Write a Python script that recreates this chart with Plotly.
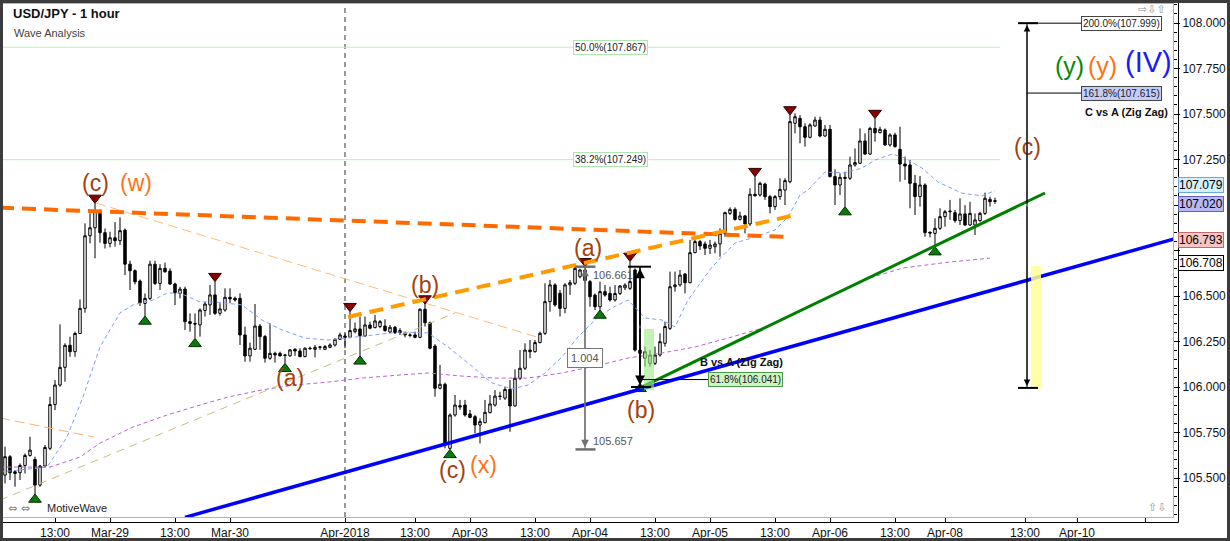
import plotly.graph_objects as go

# ---------------- data (bar index = hourly bar, prices) ----------------
opens = [105.516,105.617,105.534,105.529,105.569,105.624,105.602,105.461,105.566,105.663,
         105.904,106.011,106.108,106.229,106.194,106.294,106.432,106.831,106.875,106.969,
         106.848,106.789,106.820,106.804,106.862,106.675,106.639,106.582,106.459,106.487,
         106.675,106.569,106.652,106.637,106.566,106.514,106.538,106.359,106.349,106.341,
         106.420,106.451,106.506,106.405,106.423,106.493,106.487,106.487,106.286,106.171,
         106.207,106.335,106.277,106.158,106.185,106.185,106.176,106.171,106.207,106.198,
         106.167,106.213,106.207,106.218,106.207,106.218,106.231,106.262,106.280,106.273,
         106.304,106.319,106.280,106.341,106.326,106.332,106.335,106.302,106.328,106.299,
         106.295,106.286,106.286,106.273,106.427,106.353,106.225,105.993,106.015,105.663,
         105.846,105.897,105.901,105.852,105.837,105.791,105.804,105.859,105.901,105.950,
         105.939,105.987,105.896,106.048,106.103,106.203,106.194,106.244,106.295,106.469,
         106.561,106.515,106.432,106.561,106.570,106.606,106.643,106.579,106.505,106.441,
         106.524,106.514,106.478,106.514,106.545,106.542,106.643,106.203,106.158,106.130,
         106.130,106.176,106.240,106.322,106.551,106.561,106.621,106.573,106.738,106.799,
         106.786,106.762,106.771,106.786,106.844,106.954,106.976,106.921,106.940,106.896,
         107.059,107.055,107.115,107.046,106.991,107.046,107.082,107.128,107.449,107.476,
         107.430,107.372,107.434,107.467,107.379,107.416,107.156,107.110,107.152,107.147,
         107.220,107.229,107.352,107.280,107.421,107.397,107.412,107.330,107.385,107.306,
         107.225,107.220,107.119,107.046,107.110,106.851,106.844,106.872,106.936,106.963,
         106.958,106.914,106.951,106.890,106.890,106.914,106.954,107.031,107.024]
highs = [105.672,105.626,105.544,105.580,105.635,105.727,105.617,105.571,105.681,105.946,
         106.038,106.344,106.240,106.276,106.304,106.481,106.899,106.954,107.009,106.976,
         106.871,106.853,106.906,106.932,106.871,106.694,106.646,106.591,106.514,106.694,
         106.694,106.675,106.683,106.652,106.573,106.551,106.551,106.404,106.404,106.432,
         106.469,106.561,106.579,106.460,106.542,106.542,106.497,106.515,106.332,106.244,
         106.456,106.346,106.286,106.350,106.194,106.194,106.180,106.207,106.213,106.213,
         106.218,106.222,106.231,106.226,106.231,106.240,106.268,106.299,106.295,106.414,
         106.354,106.387,106.387,106.359,106.396,106.368,106.372,106.341,106.335,106.323,
         106.304,106.295,106.304,106.432,106.456,106.359,106.236,106.121,106.024,105.855,
         105.956,105.929,105.929,105.874,105.846,105.828,105.929,105.956,105.983,105.974,
         106.002,106.038,106.097,106.203,106.240,106.258,106.258,106.304,106.570,106.588,
         106.570,106.533,106.570,106.588,106.670,106.650,106.661,106.588,106.514,106.579,
         106.560,106.551,106.560,106.560,106.570,106.690,106.652,106.250,106.222,106.203,
         106.222,106.295,106.359,106.634,106.634,106.643,106.625,106.808,106.808,106.808,
         106.799,106.808,106.799,106.872,106.963,106.987,106.987,106.963,106.945,107.092,
         107.156,107.128,107.123,107.055,107.055,107.147,107.147,107.495,107.504,107.494,
         107.449,107.449,107.485,107.485,107.440,107.440,107.196,107.174,107.183,107.266,
         107.311,107.421,107.394,107.430,107.475,107.430,107.421,107.394,107.397,107.430,
         107.266,107.247,107.165,107.159,107.119,106.853,106.927,106.982,106.973,107.028,
         106.973,107.037,106.999,107.018,106.954,106.963,107.068,107.046,107.040]
lows = [105.470,105.489,105.452,105.489,105.525,105.617,105.412,105.452,105.562,105.653,
        105.873,106.001,106.029,106.166,106.166,106.294,106.408,106.789,106.707,106.793,
        106.761,106.767,106.771,106.780,106.615,106.533,106.564,106.445,106.390,106.478,
        106.560,106.533,106.628,106.560,106.450,106.487,106.313,106.304,106.267,106.277,
        106.387,106.396,106.396,106.392,106.414,106.460,106.469,106.231,106.139,106.139,
        106.204,106.204,106.134,106.149,106.134,106.167,106.130,106.167,106.171,106.163,
        106.163,106.204,106.163,106.204,106.204,106.213,106.222,106.258,106.213,106.268,
        106.295,106.171,106.277,106.317,106.323,106.323,106.304,106.295,106.291,106.286,
        106.273,106.273,106.268,106.268,106.332,106.207,105.947,105.987,105.663,105.657,
        105.837,105.874,105.837,105.828,105.745,105.690,105.800,105.855,105.892,105.929,
        105.929,105.754,105.892,106.038,106.093,106.158,106.189,106.240,106.286,106.414,
        106.441,106.387,106.405,106.506,106.561,106.597,106.575,106.441,106.423,106.423,
        106.496,106.469,106.469,106.505,106.533,106.533,106.194,106.020,106.112,106.112,
        106.121,106.167,106.222,106.313,106.524,106.551,106.515,106.570,106.735,106.753,
        106.725,106.731,106.735,106.716,106.826,106.945,106.914,106.914,106.844,106.885,
        107.046,107.046,107.028,106.954,106.973,107.028,107.000,107.119,107.394,107.339,
        107.321,107.366,107.430,107.372,107.375,107.152,107.000,107.055,106.991,107.137,
        107.211,107.225,107.275,107.275,107.348,107.394,107.324,107.321,107.315,107.128,
        107.137,106.982,106.945,106.991,106.826,106.822,106.771,106.863,106.881,106.918,
        106.903,106.890,106.885,106.885,106.835,106.908,106.945,106.991,107.006]
closes = [105.617,105.529,105.525,105.569,105.624,105.653,105.461,105.566,105.668,105.904,
          106.011,106.108,106.229,106.194,106.294,106.432,106.831,106.875,106.969,106.848,
          106.789,106.820,106.804,106.859,106.675,106.639,106.578,106.463,106.487,106.675,
          106.569,106.652,106.633,106.566,106.518,106.538,106.359,106.349,106.346,106.423,
          106.456,106.506,106.405,106.429,106.493,106.484,106.478,106.286,106.171,106.213,
          106.335,106.277,106.158,106.185,106.176,106.171,106.174,106.204,106.198,106.167,
          106.213,106.211,106.218,106.220,106.222,106.231,106.262,106.286,106.273,106.310,
          106.319,106.282,106.341,106.323,106.363,106.359,106.310,106.328,106.299,106.310,
          106.286,106.284,106.273,106.427,106.353,106.213,105.993,106.015,105.681,105.846,
          105.901,105.891,105.846,105.833,105.791,105.810,105.861,105.907,105.950,105.948,
          105.987,105.896,106.048,106.103,106.203,106.194,106.244,106.295,106.469,106.561,
          106.451,106.432,106.561,106.573,106.652,106.643,106.585,106.496,106.441,106.524,
          106.505,106.478,106.514,106.555,106.560,106.579,106.203,106.185,106.194,106.176,
          106.176,106.249,106.332,106.551,106.561,106.615,106.573,106.738,106.799,106.775,
          106.762,106.780,106.786,106.844,106.958,106.976,106.921,106.940,106.896,107.059,
          107.051,107.119,107.046,106.991,107.046,107.086,107.134,107.458,107.485,107.430,
          107.372,107.440,107.467,107.379,107.416,107.156,107.110,107.152,107.147,107.220,
          107.233,107.352,107.280,107.421,107.397,107.416,107.330,107.385,107.321,107.225,
          107.214,107.119,107.046,107.110,106.848,106.846,106.872,106.936,106.963,106.966,
          106.914,106.951,106.890,106.954,106.918,106.954,107.037,107.018,107.020]
bars = list(range(len(closes)))

# x-axis ticks (bar positions) and labels
tick_bars = [10, 21, 34, 45, 68, 82, 93, 106, 117, 130, 141, 154, 165, 178, 188, 204, 214.4, 228]
tick_labels = ["13:00", "Mar-29", "13:00", "Mar-30", "Apr-2018", "13:00", "Apr-03", "13:00",
               "Apr-04", "13:00", "Apr-05", "13:00", "Apr-06", "13:00", "Apr-08", "13:00", "Apr-10", ""]

# y-axis ticks; 107.000 and 106.750 are hidden behind the price tags in the reference
y_ticks = [105.5, 105.75, 106.0, 106.25, 106.5, 106.75, 107.0, 107.25, 107.5, 107.75, 108.0]
y_tick_labels = ["105.500", "105.750", "106.000", "106.250", "106.500", "", "", "107.250",
                 "107.500", "107.750", "108.000"]

# moving averages (bar, price)
ma_fast_bars = [-1, 8.4, 12.4, 15.6, 19, 23, 25.6, 29.6, 32.4, 35, 39, 42, 47.4, 51.4, 55.4, 60, 64.6,
                68, 73.4, 79, 84.6, 88.6, 92.6, 97.4, 101.4, 104.6, 108, 111.4, 114.6, 118.6, 121.4,
                124.6, 128, 131.4, 134, 136.6, 141.4, 146, 150, 154, 156.6, 159, 160.6, 164, 168,
                171.4, 174, 177.4, 180, 183.4, 186.6, 191.4, 195.4, 198]
ma_fast_vals = [105.533, 105.560, 105.725, 105.945, 106.220, 106.407, 106.451, 106.478, 106.516,
                106.516, 106.467, 106.467, 106.451, 106.368, 106.313, 106.269, 106.258, 106.269,
                106.286, 106.302, 106.297, 106.220, 106.132, 106.022, 105.989, 106.011, 106.077,
                106.165, 106.275, 106.385, 106.434, 106.478, 106.379, 106.368, 106.330, 106.478,
                106.659, 106.791, 106.824, 106.863, 106.934, 107.055, 107.082, 107.181, 107.176,
                107.203, 107.247, 107.280, 107.258, 107.203, 107.126, 107.065, 107.050, 107.079]
ma_slow_bars = [-1, 9, 15, 19, 25.6, 32.4, 39, 44.6, 51.4, 58, 64.6, 71.4, 79, 84.6, 91.4, 98, 104.6,
                111.4, 119, 124.6, 131.4, 138, 144.6, 151.6, 159, 166.4, 173, 179.6, 189, 197]
ma_slow_vals = [105.560, 105.560, 105.615, 105.692, 105.780, 105.846, 105.901, 105.945, 105.984,
                106.011, 106.027, 106.049, 106.066, 106.077, 106.060, 106.049, 106.049, 106.077,
                106.121, 106.159, 106.187, 106.220, 106.269, 106.324, 106.423, 106.516, 106.599,
                106.654, 106.687, 106.708]

# swing markers (bar indices)
swing_high_bars = [18, 42, 69, 84, 116, 125, 150, 157, 174]
swing_low_bars = [6, 28, 38, 56, 71, 89, 119, 127, 168, 186]

# analyst trendlines: (bar0, price0, bar1, price1)
trend_orange_dark = (-1, 106.985, 157, 106.824)
trend_orange_light = (68.6, 106.385, 158, 106.945)
trend_thin_orange1 = (18.2, 107.011, 107, 106.269)
trend_thin_orange2 = (-1, 105.830, 17.8, 105.725)
trend_khaki = (-1, 105.379, 90, 106.407)
trend_blue = (36, 105.284, 234, 106.815)
trend_green = (127, 105.995, 208, 107.066)

fib_levels = [107.867, 107.249]
fib_texts = ["50.0%(107.867)", "38.2%(107.249)"]

# measurements
ac_high, ac_low, ac_diff = 106.661, 105.657, "1.004"
b_level, b_low = 106.041, 106.000
c_top, c_mid, c_bottom = 107.999, 107.615, 105.995

price_tags = [(107.079, "#d4eefc", "#6aaad0"), (107.020, "#b8b8f4", "#6060c0"),
              (106.793, "#f6c4c4", "#c06a6a"), (106.708, "#ffffff", "#000000")]

# ---------------- figure ----------------
W, H = 1230, 541
ML, MR, MT, MB = 3, 57, 4, 24
PW, PH = W - ML - MR, H - MT - MB
XR = [-0.4, 233.6]
YR = [105.2857, 108.1044]

def px(x):
    return (x - ML) / PW

def py(y):
    return (H - MB - y) / PH

fig = go.Figure()

fig.add_trace(go.Candlestick(
    x=bars, open=opens, high=highs, low=lows, close=closes,
    increasing=dict(line=dict(color="black", width=1), fillcolor="white"),
    decreasing=dict(line=dict(color="black", width=1), fillcolor="black"),
    whiskerwidth=0, showlegend=False, hoverinfo="skip"))

fig.add_trace(go.Scatter(x=ma_fast_bars, y=ma_fast_vals, mode="lines",
                         line=dict(color="#7f9fff", width=1, dash="4px,3px"),
                         showlegend=False, hoverinfo="skip"))
fig.add_trace(go.Scatter(x=ma_slow_bars, y=ma_slow_vals, mode="lines",
                         line=dict(color="#bb66cc", width=1, dash="4px,3px"),
                         showlegend=False, hoverinfo="skip"))

shapes = []

def seg(t, color, width, dash="solid", layer="above"):
    shapes.append(dict(type="line", xref="x", yref="y", x0=t[0], y0=t[1], x1=t[2], y1=t[3],
                       line=dict(color=color, width=width, dash=dash), layer=layer))

# fib lines
for lv in fib_levels:
    seg((-0.4, lv, 199, lv), "#b8f0b8", 1, layer="below")

# vertical month separator
shapes.append(dict(type="line", xref="x", yref="paper", x0=68, x1=68, y0=0, y1=1,
                   line=dict(color="#333333", width=1, dash="5px,4px"), layer="below"))

seg(trend_thin_orange2, "#ffb070", 1, "10px,5px")
seg(trend_khaki, "#c8c080", 1, "8px,6px")
seg(trend_thin_orange1, "#ffbf70", 1, "10px,5px")
seg(trend_blue, "#0000ff", 3.5)
seg(trend_green, "#008000", 3)
seg(trend_orange_dark, "#ff6a00", 4, "14px,8px")
seg(trend_orange_light, "#ff9a00", 4, "14px,8px")

# highlight rectangles
shapes.append(dict(type="rect", xref="x", yref="y", x0=127.8, x1=129.8, y0=105.984, y1=106.319,
                   fillcolor="rgba(150,235,130,0.6)", line=dict(width=0), layer="above"))
shapes.append(dict(type="rect", xref="x", yref="y", x0=205.2, x1=207.2, y0=105.989, y1=106.665,
                   fillcolor="rgba(255,255,150,0.85)", line=dict(width=0), layer="above"))

# measurement A-C (grey)
mx = 116
seg((mx - 1.9, ac_high, mx + 2.1, ac_high), "#707070", 2.5)
seg((mx - 1.9, ac_low, mx + 2.1, ac_low), "#707070", 2.5)
seg((mx, ac_high, mx, ac_low), "#707070", 1.2)
# measurement B vs A (black)
bx = 127
seg((bx - 2.4, ac_high, bx + 2.2, ac_high), "#000000", 2)
seg((bx - 1.8, b_low, bx + 2.2, b_low), "#000000", 2)
seg((bx, ac_high, bx, b_low), "#000000", 1.5)
seg((bx, b_level, 140.6, b_level), "#000000", 1)
# measurement C vs A (black)
cx = 204.4
seg((cx - 1.8, c_top, cx + 2.2, c_top), "#000000", 2)
seg((cx - 1.8, c_bottom, cx + 2.2, c_bottom), "#000000", 2)
seg((cx, c_top, cx, c_bottom), "#000000", 1)
seg((cx, c_top, 215.2, c_top), "#000000", 1)
seg((cx, c_mid, 215.2, c_mid), "#000000", 1)

# axis lines offset like the reference + outer frame
shapes.append(dict(type="line", xref="paper", yref="paper", x0=px(1178.5), x1=px(1178.5),
                   y0=py(522.5), y1=py(3), line=dict(color="black", width=1)))
shapes.append(dict(type="line", xref="paper", yref="paper", x0=px(3), x1=px(1178.5),
                   y0=py(522.5), y1=py(522.5), line=dict(color="black", width=1)))
shapes.append(dict(type="rect", xref="paper", yref="paper", x0=px(1.5), x1=px(W - 1.5),
                   y0=py(H - 1.5), y1=py(1.5), line=dict(color="#3c3c3c", width=3)))

fig.update_layout(shapes=shapes)

# swing markers
fig.add_trace(go.Scatter(x=swing_high_bars, y=[highs[i] + 0.03 for i in swing_high_bars],
                         mode="markers", marker=dict(symbol="triangle-down", size=11, color="#8b0000",
                                                     line=dict(color="#300000", width=1)),
                         showlegend=False, hoverinfo="skip"))
fig.add_trace(go.Scatter(x=swing_low_bars, y=[lows[i] - 0.03 for i in swing_low_bars],
                         mode="markers", marker=dict(symbol="triangle-up", size=11, color="#0a7a0a",
                                                     line=dict(color="#003000", width=1)),
                         showlegend=False, hoverinfo="skip"))

ann = []
BROWN, ORANGE = "#a3420c", "#ff7315"

def wave(x, y, text, color, size=23):
    ann.append(dict(x=x, y=y, xref="x", yref="y", text=text, showarrow=False,
                    font=dict(family="Liberation Sans", size=size, color=color)))

wave(18, 107.121, "(c)", BROWN)
wave(26.2, 107.121, "(w)", ORANGE)
wave(57, 106.049, "(a)", BROWN)
wave(84, 106.560, "(b)", BROWN)
wave(89.4, 105.544, "(c)", BROWN)
wave(95.6, 105.571, "(x)", ORANGE)
wave(116.6, 106.764, "(a)", BROWN)
wave(127.2, 105.874, "(b)", BROWN)
wave(204.4, 107.319, "(c)", BROWN)
wave(212.8, 107.764, "(y)", "#0a8a0a", 25)
wave(219.4, 107.764, "(y)", ORANGE, 25)
wave(228.6, 107.786, "(IV)", "#1a1aff", 29)

def arrow(x, y, ax, ay, color, width):
    ann.append(dict(x=x, y=y, ax=ax, ay=ay, xref="x", yref="y", axref="x", ayref="y",
                    text="", showarrow=True, arrowhead=2, arrowsize=1.3, arrowwidth=width,
                    arrowcolor=color))

arrow(mx, ac_high - 0.01, mx, (ac_high + ac_low) / 2, "#707070", 1.2)
arrow(mx, ac_low + 0.01, mx, (ac_high + ac_low) / 2, "#707070", 1.2)
arrow(bx, ac_high - 0.01, bx, 106.33, "#000000", 1.5)
arrow(bx, b_low + 0.01, bx, 106.33, "#000000", 1.5)
arrow(cx, c_top - 0.01, cx, 107.0, "#000000", 1)
arrow(cx, c_bottom + 0.01, cx, 107.0, "#000000", 1)

small = dict(family="Liberation Sans", size=10, color="#222222")
ann.append(dict(x=mx, y=(ac_high + ac_low) / 2, xref="x", yref="y", text=ac_diff, showarrow=False,
                bgcolor="white", bordercolor="#777777", borderwidth=1, borderpad=3,
                font=dict(family="Liberation Sans", size=11, color="#555555")))
ann.append(dict(x=mx + 1.1, y=ac_high - 0.045, xref="x", yref="y", text=f"{ac_high:.3f}",
                showarrow=False, xanchor="left", font=dict(family="Liberation Sans", size=11, color="#555555")))
ann.append(dict(x=mx + 1.1, y=ac_low + 0.045, xref="x", yref="y", text=f"{ac_low:.3f}",
                showarrow=False, xanchor="left", font=dict(family="Liberation Sans", size=11, color="#555555")))

for lv, t in zip(fib_levels, fib_texts):
    ann.append(dict(x=121, y=lv, xref="x", yref="y", text=t, showarrow=False, bgcolor="white",
                    bordercolor="#aee6ae", borderwidth=1, borderpad=1, font=small))

ann.append(dict(x=140.6, y=b_level, xref="x", yref="y", text=f"61.8%({b_level:.3f})", showarrow=False,
                xanchor="left", bgcolor="#ccf5c4", bordercolor="#4a9a4a", borderwidth=1, borderpad=1,
                font=small))
ann.append(dict(x=147.2, y=106.137, xref="x", yref="y", text="<b>B vs A (Zig Zag)</b>", showarrow=False,
                font=dict(family="Liberation Sans", size=11, color="#111111")))
ann.append(dict(x=215.2, y=c_top, xref="x", yref="y", text=f"200.0%({c_top:.3f})", showarrow=False,
                xanchor="left", bgcolor="white", bordercolor="#444444", borderwidth=1, borderpad=1, font=small))
ann.append(dict(x=215.2, y=c_mid, xref="x", yref="y", text=f"161.8%({c_mid:.3f})", showarrow=False,
                xanchor="left", bgcolor="#c4ccfa", bordercolor="#444444", borderwidth=1, borderpad=1, font=small))
ann.append(dict(x=233, y=107.511, xref="x", yref="y", text="<b>C vs A (Zig Zag)</b>", showarrow=False,
                xanchor="right", font=dict(family="Liberation Sans", size=11, color="#111111")))

# price tags at the right axis (small offsets keep them from overlapping)
tag_shift = [6, -3, 3, -5]
for (val, bg, bd), sh in zip(price_tags, tag_shift):
    ann.append(dict(x=px(1178), y=val, xref="paper", yref="y", text=f"{val:.3f}", showarrow=False,
                    xanchor="left", yshift=sh, bgcolor=bg, bordercolor=bd,
                    borderwidth=1, borderpad=0,
                    font=dict(family="Liberation Sans", size=12, color="#000000")))

# titles and watermark
ann.append(dict(x=px(11), y=py(13), xref="paper", yref="paper", text="<b>USD/JPY - 1 hour</b>",
                showarrow=False, xanchor="left", yanchor="middle",
                font=dict(family="Liberation Sans", size=13, color="#111111")))
ann.append(dict(x=px(12), y=py(33), xref="paper", yref="paper", text="Wave Analysis",
                showarrow=False, xanchor="left", yanchor="middle",
                font=dict(family="Liberation Sans", size=11, color="#444444")))
ann.append(dict(x=px(6), y=py(508), xref="paper", yref="paper", text="⇔ ⇔",
                showarrow=False, xanchor="left", yanchor="middle",
                font=dict(family="DejaVu Sans", size=11, color="#888888")))
ann.append(dict(x=px(45), y=py(508), xref="paper", yref="paper", text="MotiveWave",
                showarrow=False, xanchor="left", yanchor="middle",
                font=dict(family="Liberation Sans", size=11, color="#222222")))
ann.append(dict(x=px(1168), y=py(9), xref="paper", yref="paper", text="⇨⇩⇧",
                showarrow=False, xanchor="right", yanchor="middle",
                font=dict(family="DejaVu Sans", size=11, color="#999999")))
ann.append(dict(x=px(1168), y=py(507), xref="paper", yref="paper", text="⇧⇩",
                showarrow=False, xanchor="right", yanchor="middle",
                font=dict(family="DejaVu Sans", size=11, color="#999999")))

fig.update_layout(
    annotations=ann,
    width=W, height=H,
    margin=dict(l=ML, r=MR, t=MT, b=MB),
    paper_bgcolor="white", plot_bgcolor="white",
    showlegend=False,
    xaxis=dict(range=XR, tickvals=tick_bars, ticktext=tick_labels, ticks="outside", ticklen=5,
               tickcolor="black", showgrid=False, zeroline=False, showline=True, mirror=True,
               linecolor="#b4b4b4", rangeslider=dict(visible=False), automargin=False,
               tickfont=dict(family="Liberation Sans", size=12, color="#111111")),
    yaxis=dict(range=YR, side="right", tickvals=y_ticks, ticktext=y_tick_labels, ticks="outside",
               ticklen=6, tickcolor="black", showgrid=False, zeroline=False, showline=True,
               mirror=True, linecolor="#b4b4b4", automargin=False,
               minor=dict(dtick=0.05, ticks="outside", ticklen=3, tickcolor="black", showgrid=False),
               tickfont=dict(family="Liberation Sans", size=12, color="#111111")),
)

fig.write_html("out.html", config={"displayModeBar": False},
               post_script="document.body.style.margin='0';document.body.style.padding='0';"
                           "document.body.style.overflow='hidden';")
